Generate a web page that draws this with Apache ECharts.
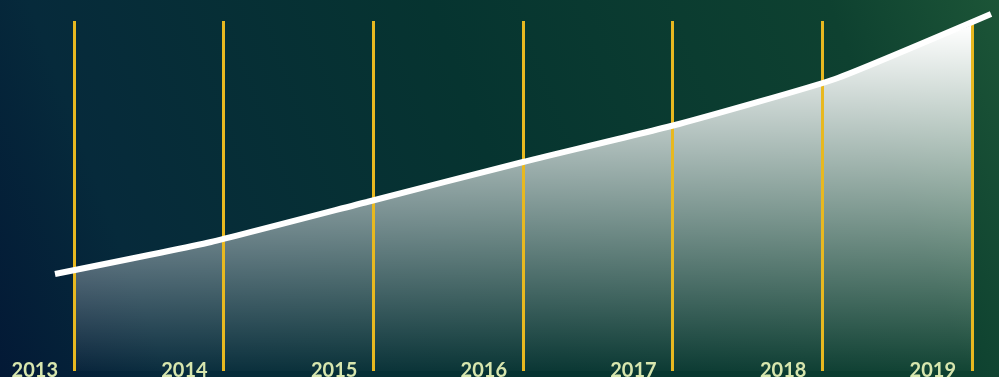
<!DOCTYPE html>
<html>
<head>
<meta charset="utf-8">
<script src="https://cdn.jsdelivr.net/npm/echarts@6/dist/echarts.min.js"></script>
<style>
html,body{margin:0;padding:0;width:999px;height:377px;overflow:hidden;}
#chart{width:999px;height:377px;}
</style>
</head>
<body>
<div id="chart"></div>
<script>
const years = ['2013','2014','2015','2016','2017','2018','2019'];
const areaValues = [99, 132, 171, 209, 245, 287, 346];
const lineValues = [97, 129, 169, 209, 247, 292, 357];
const yMin = 0;
const yMax = 350;

const chart = echarts.init(document.getElementById('chart'), null, {renderer: 'canvas'});
chart.setOption({
  backgroundColor: new echarts.graphic.LinearGradient(0, 1, 1, 0, [
    {offset: 0, color: '#031936'},
    {offset: 0.15, color: '#062a3b'},
    {offset: 0.5, color: '#063430'},
    {offset: 0.85, color: '#0e4130'},
    {offset: 1, color: '#1c5537'}
  ]),
  animation: false,
  grid: [
    {left: 74, right: 27, top: 21, bottom: 6, containLabel: false, outerBoundsMode: 'none'},
    {left: 55, right: 8, top: 21, bottom: 6, containLabel: false, outerBoundsMode: 'none'}
  ],
  xAxis: [
    {
      type: 'category', gridIndex: 0, data: years, boundaryGap: false, z: 2,
      axisLine: {show: false}, axisTick: {show: false},
      splitLine: {show: true, lineStyle: {color: '#e8b820', width: 3}},
      axisLabel: {
        show: true, color: '#d8e6ae', fontFamily: 'Lato', fontWeight: 'bold', fontSize: 20,
        align: 'right', padding: [0, 16, 0, 0], margin: -10, showMinLabel: true, showMaxLabel: true
      }
    },
    {
      type: 'category', gridIndex: 1, data: years, boundaryGap: false, show: false
    }
  ],
  yAxis: [
    {type: 'value', gridIndex: 0, min: yMin, max: yMax, show: false, splitLine: {show: false}},
    {type: 'value', gridIndex: 1, min: yMin, max: yMax, show: false, splitLine: {show: false}}
  ],
  series: [
    {
      type: 'line', xAxisIndex: 0, yAxisIndex: 0, data: areaValues,
      symbol: 'none', lineStyle: {width: 0},
      areaStyle: {
        opacity: 1,
        color: new echarts.graphic.LinearGradient(0, 0, 0, 1, [
          {offset: 0, color: 'rgba(255,255,255,1)'},
          {offset: 1, color: 'rgba(255,255,255,0.02)'}
        ])
      },
      z: 1
    },
    {
      type: 'line', xAxisIndex: 1, yAxisIndex: 1, data: lineValues,
      symbol: 'none', smooth: 0.15, clip: false,
      lineStyle: {color: '#ffffff', width: 6, cap: 'butt'},
      z: 3
    }
  ]
});
</script>
</body>
</html>
